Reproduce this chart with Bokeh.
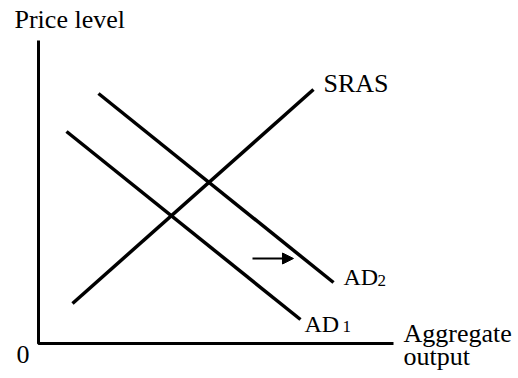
from bokeh.plotting import figure
from bokeh.models import Range1d, Arrow, NormalHead
from bokeh.core.properties import value
from bokeh.themes import Theme
from bokeh.embed import file_html
from bokeh.resources import INLINE

# Data (units: 0-10 along each axis)
axis_x = [0.0, 0.0, 10.0]
axis_y = [10.0, 0.0, 0.0]

sras_x = [0.958, 7.746]
sras_y = [1.320, 8.383]

ad1_x = [0.789, 7.380]
ad1_y = [6.997, 0.792]

ad2_x = [1.690, 8.310]
ad2_y = [8.251, 2.013]

shift_x = [6.028, 7.183]
shift_y = [2.805, 2.805]

labels = ["Price level", "SRAS", "Aggregate", "output", "0"]
label_x = [-0.676, 8.028, 10.282, 10.282, -0.620]
label_y = [10.69, 8.58, 0.33, -0.43, -0.36]

ad_labels = ["AD", "AD"]
ad_x = [8.592, 7.493]
ad_y = [2.18, 0.66]
sub_labels = ["2", "1"]
sub_x = [9.549, 8.563]
sub_y = [2.08, 0.56]

p = figure(width=518, height=378, output_backend="svg", toolbar_location=None,
           x_range=Range1d(-1.0704, 13.521), y_range=Range1d(-1.155, 11.320),
           x_axis_location=None, y_axis_location=None, min_border=0)
p.grid.visible = False
p.outline_line_color = None


def add_texts(texts, xs, ys, size):
    for t, x, y in zip(texts, xs, ys):
        p.text([x], [y], text=[t], text_font=value("Liberation Serif"),
               text_font_size=size, text_baseline="alphabetic")


add_texts(labels, label_x, label_y, "26px")
add_texts(ad_labels, ad_x, ad_y, "24px")
add_texts(sub_labels, sub_x, sub_y, "17px")

p.line(axis_x, axis_y, line_color="black", line_width=3)
p.line(sras_x, sras_y, line_color="black", line_width=3.5)
p.line(ad1_x, ad1_y, line_color="black", line_width=3.5)
p.line(ad2_x, ad2_y, line_color="black", line_width=3.5)

p.add_layout(Arrow(x_start=shift_x[0], y_start=shift_y[0], x_end=shift_x[1], y_end=shift_y[1],
                   line_color="black", line_width=2,
                   end=NormalHead(size=11, fill_color="black", line_color="black", line_width=1)))

theme = Theme(json={"attrs": {"Text": {"text_color": "#000000"}}})
open("out.html", "w").write(file_html(p, INLINE, theme=theme))
